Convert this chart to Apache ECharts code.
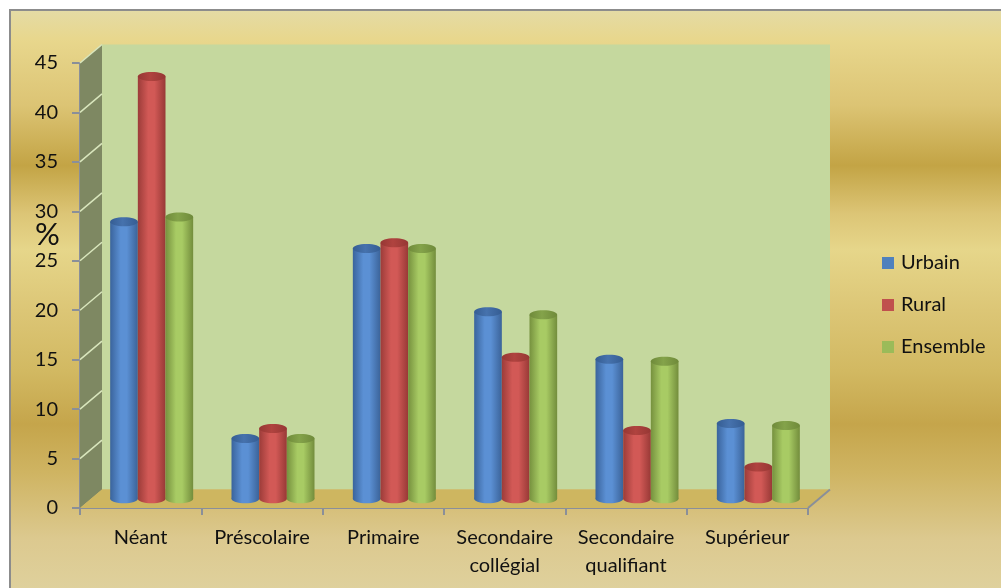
<!DOCTYPE html>
<html>
<head>
<meta charset="utf-8">
<script src="https://cdn.jsdelivr.net/npm/echarts@6/dist/echarts.min.js"></script>
<style>
  html, body { margin: 0; padding: 0; background: #fff; }
  #chart { width: 1001px; height: 588px; }
</style>
</head>
<body>
<div id="chart"></div>
<script>
// Niveau d'instruction (%) par milieu de résidence
const categories = ['Néant', 'Préscolaire', 'Primaire', 'Secondaire\ncollégial', 'Secondaire\nqualifiant', 'Supérieur'];
const urbain   = [28.0, 6.1, 25.3, 18.9, 14.1, 7.6];
const rural    = [42.7, 7.1, 25.9, 14.3, 6.9, 3.2];
const ensemble = [28.5, 6.1, 25.3, 18.6, 13.9, 7.4];
const yMin = 0, yMax = 45, yStep = 5;

// depth of the 3D box (front plane -> back wall), in pixels
const DX = 22, DY = -18.5;
const FONT = 'Lato, "Open Sans", sans-serif';
const TEXT = '#111111';

const palettes = {
  Urbain:   { legend: '#4f81bd', edgeL: '#3a649c', mid: '#5b90d4', edgeR: '#3b6399', top: ['#355d93', '#4672ad', '#355d93'] },
  Rural:    { legend: '#c0504d', edgeL: '#9c3c39', mid: '#d25956', edgeR: '#983936', top: ['#963734', '#b0433f', '#963734'] },
  Ensemble: { legend: '#9bbb59', edgeL: '#76913e', mid: '#a8cb64', edgeR: '#738d3c', top: ['#6f8a3a', '#84a34a', '#6f8a3a'] }
};

function hGrad(stops) {
  return { type: 'linear', x: 0, y: 0, x2: 1, y2: 0, colorStops: stops };
}

function renderWalls(params, api) {
  const band = api.size([1, 0])[0];
  const x0 = api.coord([0, yMin])[0] - band / 2;
  const x1 = api.coord([categories.length - 1, yMin])[0] + band / 2;
  const yb = api.coord([0, yMin])[1];
  const yt = api.coord([0, yMax])[1];
  const children = [];
  // back wall
  children.push({ type: 'polygon', shape: { points: [[x0 + DX, yt + DY], [x1 + DX, yt + DY], [x1 + DX, yb + DY], [x0 + DX, yb + DY]] },
    style: { fill: '#c5d89e' } });
  // side wall
  children.push({ type: 'polygon', shape: { points: [[x0, yb], [x0, yt], [x0 + DX, yt + DY], [x0 + DX, yb + DY]] },
    style: { fill: '#7e8862' } });
  // floor
  children.push({ type: 'polygon', shape: { points: [[x0, yb], [x0 + DX, yb + DY], [x1 + DX, yb + DY], [x1, yb]] },
    style: { fill: '#ceb660' } });
  // side wall grid lines
  for (let v = yMin + yStep; v <= yMax; v += yStep) {
    const y = api.coord([0, v])[1];
    children.push({ type: 'line', shape: { x1: x0, y1: y, x2: x0 + DX, y2: y + DY },
      style: { stroke: '#d9e6bd', lineWidth: 1.5 } });
  }
  // floor right edge
  children.push({ type: 'line', shape: { x1: x1, y1: yb, x2: x1 + DX, y2: yb + DY },
    style: { stroke: '#8a8f99', lineWidth: 2 } });
  return { type: 'group', children };
}

function cylinder(slot, pal) {
  return function (params, api) {
    const band = api.size([1, 0])[0];
    const w = band * 0.228;
    const ci = api.value(0);
    const topPt = api.coord([ci, api.value(1)]);
    const basePt = api.coord([ci, yMin]);
    const cx = topPt[0] + (slot - 1) * w + DX / 2;
    const yTop = topPt[1] + DY / 2;
    const yBase = basePt[1] + DY / 2;
    const rx = w / 2, ry = 4.5;
    const body = hGrad([
      { offset: 0, color: pal.edgeL },
      { offset: 0.38, color: pal.mid },
      { offset: 0.6, color: pal.mid },
      { offset: 1, color: pal.edgeR }
    ]);
    const topFill = hGrad([
      { offset: 0, color: pal.top[0] },
      { offset: 0.45, color: pal.top[1] },
      { offset: 1, color: pal.top[2] }
    ]);
    return {
      type: 'group',
      children: [
        { type: 'ellipse', shape: { cx: cx, cy: yBase, rx: rx, ry: ry }, style: { fill: body } },
        { type: 'rect', shape: { x: cx - rx, y: yTop, width: w, height: yBase - yTop }, style: { fill: body } },
        { type: 'ellipse', shape: { cx: cx, cy: yTop, rx: rx, ry: ry }, style: { fill: topFill } }
      ]
    };
  };
}

function barSeries(name, values, slot) {
  const pal = palettes[name];
  return {
    name: name,
    type: 'custom',
    z: 3 + slot,
    itemStyle: { color: pal.legend },
    data: values.map((v, i) => [i, v]),
    encode: { x: 0, y: 1 },
    renderItem: cylinder(slot, pal)
  };
}

const chart = echarts.init(document.getElementById('chart'), null, { renderer: 'canvas' });

chart.setOption({
  backgroundColor: '#ffffff',
  animation: false,
  graphic: [
    {
      type: 'rect', z: -10, silent: true,
      shape: { x: 10, y: 10, width: 1010, height: 600 },
      style: {
        stroke: '#8c8c8c', lineWidth: 2,
        fill: {
          type: 'linear', x: 0, y: 0, x2: 0, y2: 1,
          colorStops: [
            { offset: 0.00, color: '#e4dba6' },
            { offset: 0.05, color: '#e8d78d' },
            { offset: 0.16, color: '#dcc474' },
            { offset: 0.26, color: '#c3a445' },
            { offset: 0.34, color: '#dcc576' },
            { offset: 0.40, color: '#e6d68a' },
            { offset: 0.50, color: '#dcc676' },
            { offset: 0.60, color: '#d2b962' },
            { offset: 0.69, color: '#c5a54b' },
            { offset: 0.77, color: '#cfb462' },
            { offset: 0.88, color: '#dcc98f' },
            { offset: 1.00, color: '#e0d4a2' }
          ]
        }
      }
    },
    {
      type: 'text', z: 10, left: 35, top: 219,
      style: { text: '%', font: '31px ' + FONT, fill: TEXT }
    }
  ],
  legend: {
    orient: 'vertical',
    left: 877,
    top: 248,
    itemWidth: 12,
    itemHeight: 12,
    itemGap: 22,
    icon: 'rect',
    data: ['Urbain', 'Rural', 'Ensemble'],
    textStyle: { fontFamily: FONT, fontSize: 20, color: TEXT, lineHeight: 20, padding: [0, 0, 0, 2] }
  },
  grid: { left: 80, top: 63, width: 728, height: 445, containLabel: false },
  xAxis: {
    type: 'category',
    data: categories,
    boundaryGap: true,
    axisLine: { show: true, lineStyle: { color: '#8a8f99', width: 2 } },
    axisTick: { show: true, length: 7, alignWithLabel: false, lineStyle: { color: '#8a8f99', width: 2 } },
    axisLabel: { fontFamily: FONT, fontSize: 20, color: TEXT, margin: 16, lineHeight: 28, interval: 0 },
    splitLine: { show: false }
  },
  yAxis: {
    type: 'value',
    min: yMin, max: yMax, interval: yStep,
    axisLine: { show: true, lineStyle: { color: '#8a8f99', width: 2 } },
    axisTick: { show: true, length: 8, lineStyle: { color: '#8a8f99', width: 2 } },
    axisLabel: { fontFamily: FONT, fontSize: 20, color: TEXT, margin: 22 },
    splitLine: { show: false }
  },
  series: [
    {
      name: 'walls', type: 'custom', z: 1, silent: true,
      data: [[0, 0]], encode: { x: 0, y: 1 },
      renderItem: renderWalls
    },
    barSeries('Urbain', urbain, 0),
    barSeries('Rural', rural, 1),
    barSeries('Ensemble', ensemble, 2)
  ]
});
</script>
</body>
</html>
